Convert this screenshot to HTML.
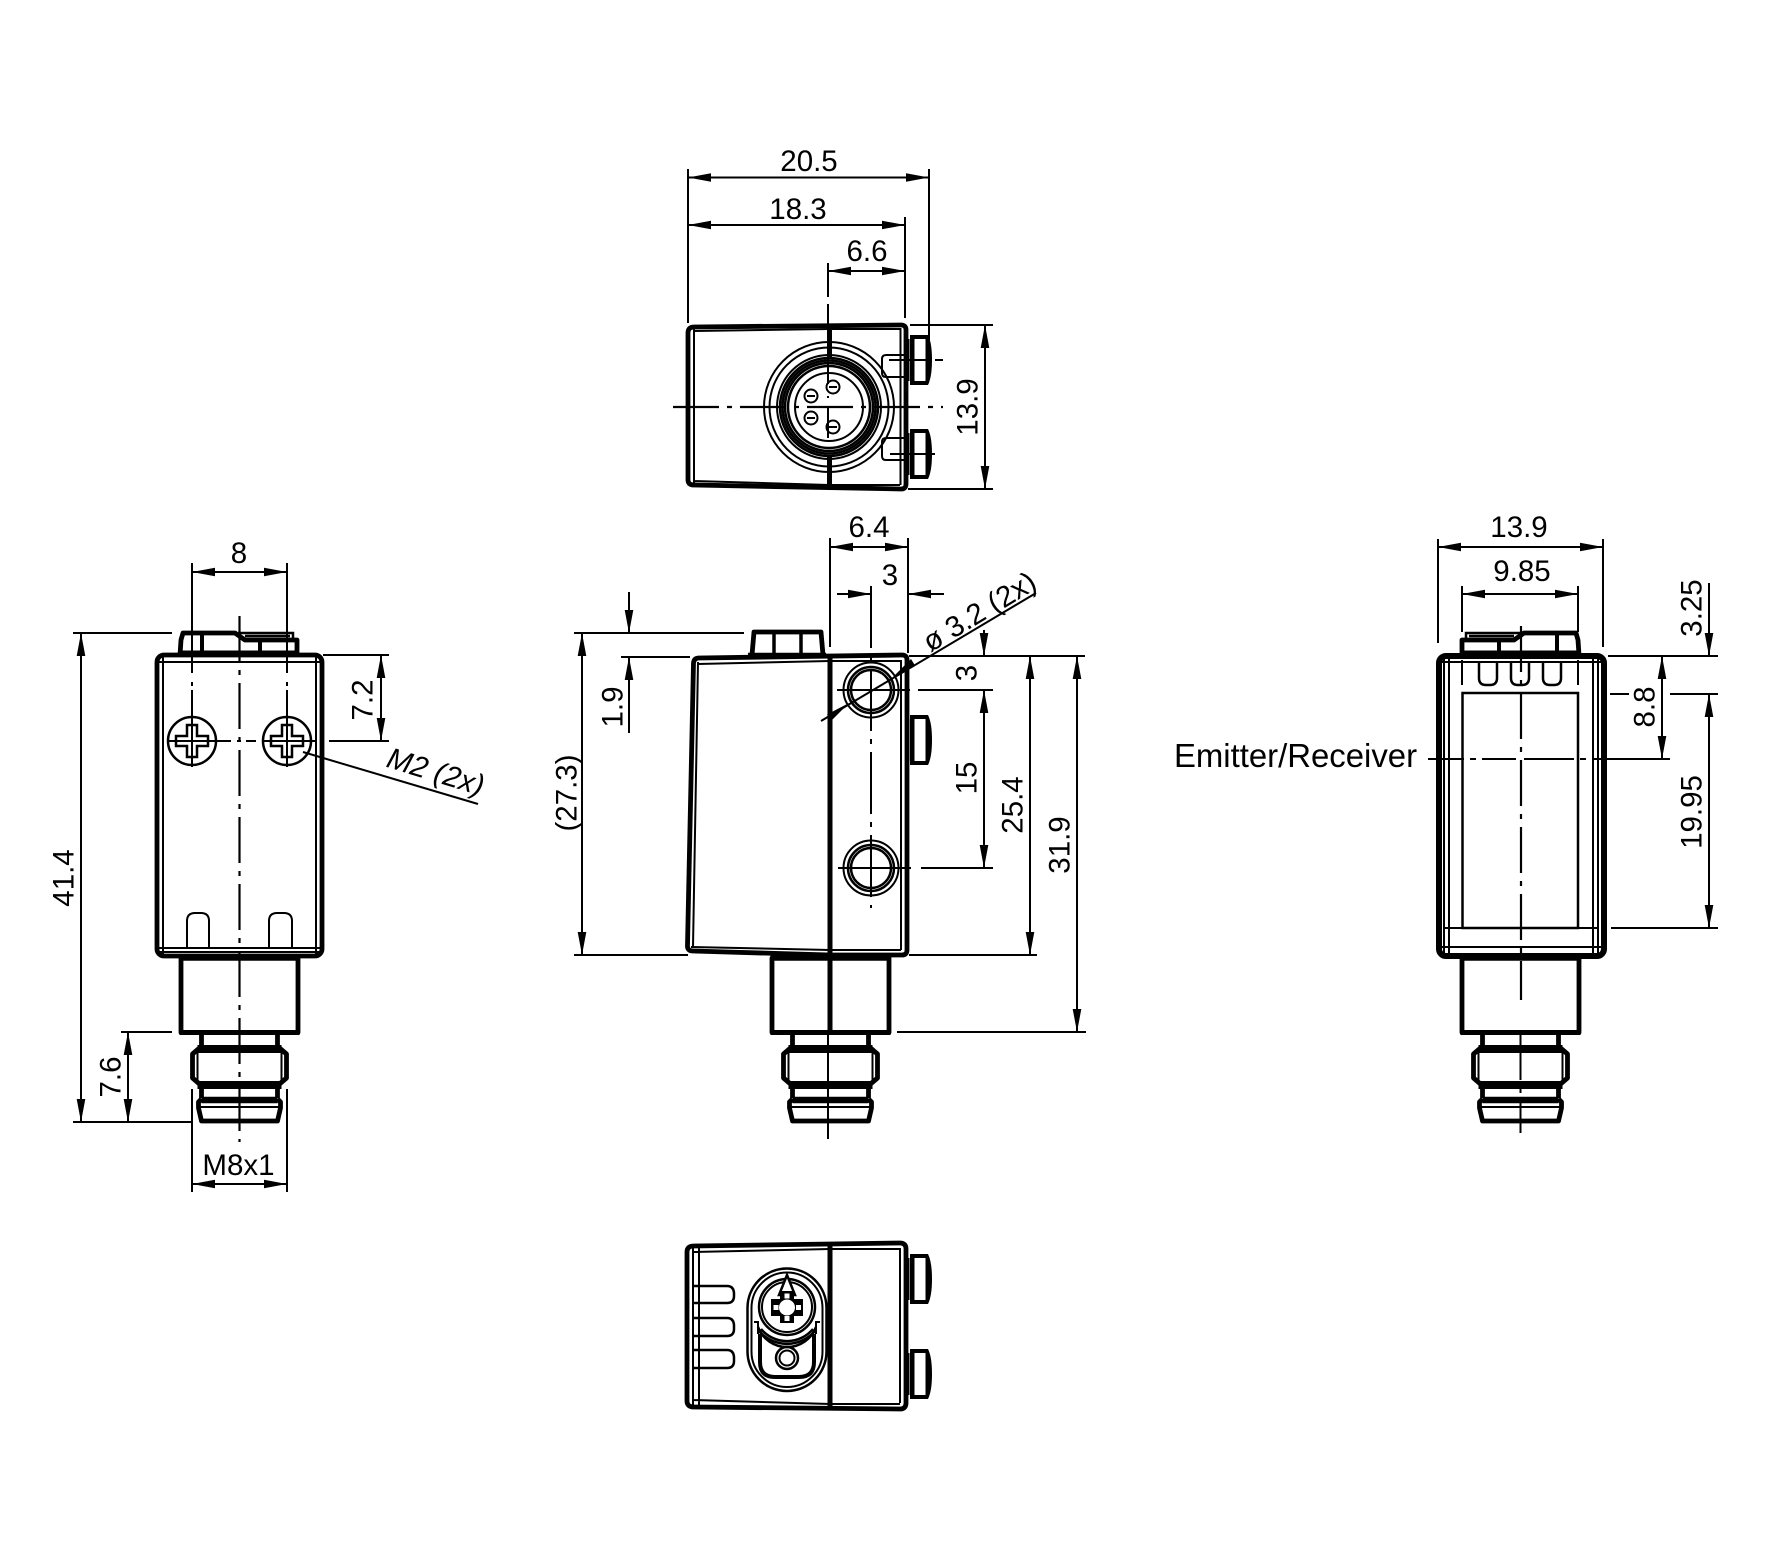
<!DOCTYPE html>
<html><head><meta charset="utf-8"><style>
html,body{margin:0;padding:0;background:#fff}
svg{display:block}
text{font-family:"Liberation Sans",sans-serif;font-size:29.5px;fill:#000;text-anchor:middle}
.t{fill:none;stroke:#000;stroke-width:4.8;stroke-linejoin:round}
.m{fill:none;stroke:#000;stroke-width:2.5}
.s{fill:none;stroke:#000;stroke-width:2}
.d{fill:none;stroke:#000;stroke-width:2;marker-start:url(#a);marker-end:url(#a)}
.c{fill:none;stroke:#000;stroke-width:2.2;stroke-dasharray:46 8 5 8}
</style></head><body>
<svg width="1772" height="1559" viewBox="0 0 1772 1559" xmlns="http://www.w3.org/2000/svg">
<defs>
<marker id="a" markerUnits="userSpaceOnUse" markerWidth="23" markerHeight="9" viewBox="0 0 23 9" refX="23" refY="4.5" orient="auto-start-reverse"><path d="M0,.2L23,4.5L0,8.8z" fill="#000"/></marker>
<g id="conn">
<rect class="t" x="-58.5" y="958" width="117" height="74.5"/>
<path d="M-60,958H60" stroke="#000" stroke-width="5.5"/>
<path d="M-60,1032.5H60" stroke="#000" stroke-width="5"/>
<path class="t" d="M-38,1034V1046M38,1034V1046M-38,1085V1098M38,1085V1098"/>
<path class="t" d="M-47,1054L-40,1048H40L47,1054V1078L40,1084H-40L-47,1078Z"/>
<path d="M-42,1049H42M-42,1085H42" stroke="#000" stroke-width="8"/>
<path class="s" d="M42,1052V1080M-42,1052V1080"/>
<path d="M-38,1100H38" stroke="#000" stroke-width="6.5"/>
<path class="t" d="M-38,1099L-41,1102V1108L-38,1121H38L41,1108V1102L38,1099"/>
<path class="s" d="M-40,1107H40"/>
</g>
<g id="knob">
<path d="M0,0H18Q22,8 22,25Q22,42 18,50H0Z" fill="#000"/>
<rect x="4.5" y="4" width="11" height="42" fill="#fff"/>
<path d="M-2,4V46" stroke="#000" stroke-width="3"/>
</g>
<g id="screw">
<circle class="m" r="24"/>
<path class="m" d="M-5,-16H5V-5H16V5H5V16H-5V5H-16V-5H-5Z"/>
</g>
<g id="hole">
<circle class="s" r="27.5"/>
<circle class="m" r="23"/>
<circle class="m" r="20"/>
</g>
<g id="pin"><circle class="s" r="6.5"/><path class="s" d="M-4,0H4"/></g>
<g id="topc">
<path class="t" d="M180,655L181,640L183,633H235L245,640H297V655"/>
<path class="m" d="M238,633H293V640M245,636H290"/>
<path d="M202,634V654M260,640V654" stroke="#000" stroke-width="4"/>
<path d="M178,653H298" stroke="#000" stroke-width="5"/>
</g>
</defs>

<!-- TOP VIEW -->
<path class="t" d="M694,327L901,325Q906,325 906,330V484Q906,489 901,489L694,485Q688,485 688,480V333Q688,327 694,327Z"/>
<path class="s" d="M694,331L829,329H900.5V485M694,329V484M694,481L829,485H900"/>
<path d="M829.5,326V358M829.5,456V490" stroke="#000" stroke-width="5"/>
<path class="s" d="M828,358V384M828,396V398M828,407V438"/>
<circle class="s" cx="829" cy="407" r="65"/>
<circle class="s" cx="829" cy="407" r="59.5"/>
<circle class="s" cx="829" cy="407" r="52"/>
<circle class="m" cx="829" cy="407" r="49"/>
<circle class="m" cx="829" cy="407" r="46.5"/>
<circle class="m" cx="829" cy="407" r="44"/>
<circle class="m" cx="829" cy="407" r="41"/>
<circle class="s" cx="829" cy="407" r="34"/>
<use href="#pin" x="833" y="387"/><use href="#pin" x="811" y="396"/><use href="#pin" x="811" y="418"/><use href="#pin" x="833" y="427"/>
<path class="c" d="M673,407H943"/>
<path class="s" d="M905,355H886Q882,355 882,359V373Q882,377 886,377H905M905,438H886Q882,438 882,442V456Q882,460 886,460H905"/>
<use href="#knob" x="910" y="335"/><use href="#knob" x="910" y="429"/>
<path class="s" d="M889,360H930M935,360H943M890,454H935"/>
<path class="s" d="M688,169V323M929,169V340M905,217V318M828,263V297M828,304V326"/>
<path class="d" d="M688,177.5H929"/>
<path class="d" d="M688,225H905"/>
<path class="d" d="M828,271H905"/>
<path class="s" d="M910,325H993M908,489H993"/>
<path class="d" d="M985,325V489"/>
<text x="809" y="171">20.5</text>
<text x="798" y="219">18.3</text>
<text x="867" y="261">6.6</text>
<text transform="translate(967,407) rotate(-90)" dy=".36em">13.9</text>

<!-- LEFT VIEW -->
<rect class="t" x="157" y="655" width="165" height="301" rx="7"/>
<path class="s" d="M163,656V954M316,656V954M157,662H322M158,948H321M158,952H321"/>
<path class="s" d="M187,948V921Q187,913 195,913H201Q209,913 209,921V948M269,948V921Q269,913 277,913H284Q292,913 292,921V948"/>
<use href="#topc"/>
<use href="#screw" x="192" y="741"/><use href="#screw" x="287" y="741"/>
<path class="s" d="M192,563V673M192,682V686M192,690V767M287,563V673M287,682V686M287,690V767"/>
<path class="s" d="M168,741H231M237,741H241M246,741H256M262,741H317M329,741H389"/>
<path class="c" d="M239.5,616V1142"/>
<path class="d" d="M192,572H287"/>
<text x="239" y="563">8</text>
<path class="s" d="M323,655H389"/>
<path class="d" d="M381,655V741"/>
<text transform="translate(362,700) rotate(-90)" dy=".36em">7.2</text>
<path class="s" d="M303,752L478,804"/>
<text transform="translate(436,771) rotate(17)" dy=".36em" font-style="italic">M2 (2x)</text>
<path class="s" d="M73,633H172M73,1122H192M121,1032H172"/>
<path class="d" d="M81,633V1122"/>
<text transform="translate(63,878) rotate(-90)" dy=".36em">41.4</text>
<path class="d" d="M128,1032V1122"/>
<text transform="translate(110,1077) rotate(-90)" dy=".36em">7.6</text>
<use href="#conn" x="239.5"/>
<path class="s" d="M192,1089V1192M287,1089V1192"/>
<path class="d" d="M192,1184H287"/>
<text x="238.5" y="1175">M8x1</text>

<!-- CENTER VIEW -->
<path class="t" d="M699,658L902,655Q907,655 907,660V950Q907,955 902,955H830L693,951Q687,951 687.5,945L693.5,663Q694,658 699,658Z"/>
<path class="s" d="M698,664L830,661H901V950M698,662L693,947M691,947L830,950H901"/>
<path d="M830,656V1032" stroke="#000" stroke-width="5"/>
<path class="t" d="M752,655L754,632H821L823,655"/>
<path d="M774,633V654M801,633V654" stroke="#000" stroke-width="3.5"/>
<path d="M748,655H826" stroke="#000" stroke-width="4.5"/>
<use href="#hole" x="871" y="690"/><use href="#hole" x="871" y="868"/>
<use href="#knob" x="910" y="715"/>
<path class="s" d="M871,586V908" stroke-dasharray="62 8 5 8"/>
<path class="s" d="M837,690H910M918,690H993M838,868H911M921,868H993"/>
<path class="s" d="M830,538V647M908,538V653"/>
<path class="d" d="M830,547H908"/>
<text x="869" y="537">6.4</text>
<path class="s" d="M837,594H871M908,594H944"/>
<path d="M848,589.7L871,594L848,598.3zM931,589.7L908,594L931,598.3z" fill="#000"/>
<text x="890" y="585">3</text>
<path class="s" d="M821,721L1036,593"/>
<path d="M849,703L827,714.5L831,721zM893,677L915,665.5L911,659z" fill="#000"/>
<text transform="translate(979,611) rotate(-31)" dy=".36em">ø 3.2 (2x)</text>
<path class="s" d="M574,633H744M621,657H690"/>
<path class="s" d="M629,592V633M629,657V733"/>
<path d="M624.7,610L629,633L633.3,610zM624.7,680L629,657L633.3,680z" fill="#000"/>
<text transform="translate(612,707) rotate(-90)" dy=".36em">1.9</text>
<path class="s" d="M574,955H688"/>
<path class="d" d="M582,633V955"/>
<text transform="translate(566,793) rotate(-90)" dy=".36em">(27.3)</text>
<path class="s" d="M984,630V656"/>
<path d="M979.7,633L984,656L988.3,633z" fill="#000"/>
<path class="d" d="M984,690V868"/>
<text transform="translate(966,673) rotate(-90)" dy=".36em">3</text>
<text transform="translate(966,778) rotate(-90)" dy=".36em">15</text>
<path class="s" d="M909,656H1085M909,955H1037"/>
<path class="d" d="M1030,656V955"/>
<text transform="translate(1012,805) rotate(-90)" dy=".36em">25.4</text>
<path class="s" d="M897,1032H1086"/>
<path class="d" d="M1077,656V1032"/>
<text transform="translate(1059,845) rotate(-90)" dy=".36em">31.9</text>
<use href="#conn" x="830.5"/>
<path class="s" d="M828,1034V1139"/>

<!-- BOTTOM VIEW -->
<path class="t" d="M694,1246L900,1243Q906,1243 906,1249V1403Q906,1409 900,1409L694,1407Q687,1407 687,1401V1252Q687,1246 694,1246Z"/>
<path class="s" d="M693,1252L830,1249H900V1403M693,1247V1406M699,1246V1408M693,1400L830,1404H900"/>
<path d="M830,1244V1409" stroke="#000" stroke-width="5"/>
<path class="m" d="M692,1286H727Q734,1286 734,1294V1296Q734,1303 727,1303H692M692,1318H727Q734,1318 734,1326V1329Q734,1336 727,1336H692M692,1350H727Q734,1350 734,1358V1361Q734,1368 727,1368H692"/>
<use href="#knob" x="910" y="1254"/><use href="#knob" x="910" y="1349"/>
<path class="m" d="M747.5,1308A39.5,39.5 0 0 1 826.5,1308V1351A39.5,39.5 0 0 1 787,1391A39.5,39.5 0 0 1 747.5,1351Z"/>
<path class="s" d="M751.5,1308A35.5,35.5 0 0 1 822.5,1308V1351A35.5,35.5 0 0 1 787,1387A35.5,35.5 0 0 1 751.5,1351Z"/>
<circle class="m" cx="787" cy="1307" r="28"/>
<circle class="s" cx="787" cy="1307" r="25"/>
<path d="M787,1275L795,1295H779Z" fill="#fff" stroke="#000" stroke-width="2.5"/>
<path d="M780,1291H794V1299H803V1316H794V1323H780V1316H771V1299H780Z" fill="#000"/>
<rect x="784.5" y="1293.5" width="5" height="5" fill="#fff"/>
<rect x="773.5" y="1305" width="5" height="5" fill="#fff"/>
<rect x="796" y="1305" width="5" height="5" fill="#fff"/>
<rect x="784.5" y="1316" width="5" height="5" fill="#fff"/>
<circle cx="787" cy="1307.5" r="8" fill="#fff"/>
<path d="M760,1334V1362Q760,1377 775,1377H799Q814,1377 814,1362V1334" fill="none" stroke="#000" stroke-width="4"/>
<path class="m" d="M761,1329A34,34 0 0 0 813,1329"/>
<path class="m" d="M759,1331A37,37 0 0 0 815,1331"/>
<path class="m" d="M758,1327A31,31 0 0 0 816,1327" />
<path class="s" d="M754,1322H758V1334M820,1322H816V1334"/>
<circle class="m" cx="787" cy="1358" r="11"/>
<circle class="s" cx="787" cy="1358" r="7.5"/>

<!-- RIGHT VIEW -->
<rect class="t" x="1439" y="656" width="165" height="300" rx="7" style="stroke-width:6"/>
<path class="s" d="M1444,657V954M1449,657V954M1593,657V954M1598,657V954M1440,662H1603M1444,928H1598M1440,947H1603"/>
<use href="#topc" transform="translate(1759,0) scale(-1,1)"/>
<rect class="m" x="1462.5" y="693" width="115.5" height="235"/>
<path class="m" d="M1479,662V678Q1479,685 1486,685H1490Q1497,685 1497,678V662M1511,662V678Q1511,685 1518,685H1522Q1529,685 1529,678V662M1543,662V678Q1543,685 1550,685H1554Q1561,685 1561,678V662"/>
<path class="c" d="M1521,626V1000"/>
<path class="s" d="M1438,539V643M1603,539V647M1462,586V632M1462,660V685M1578,586V632M1578,660V685"/>
<path class="d" d="M1438,547H1603"/>
<path class="d" d="M1462,594H1578"/>
<text x="1519" y="537">13.9</text>
<text x="1522" y="581">9.85</text>
<text x="1295.5" y="767" style="font-size:32.9px">Emitter/Receiver</text>
<path class="s" d="M1428,759H1464M1470,759H1476M1482,759H1516M1524,759H1574M1580,759H1586M1592,759H1670" />
<path class="s" d="M1608,656H1718M1610,694H1629M1670,694H1718M1611,928H1718"/>
<path class="s" d="M1709,583V656"/>
<path d="M1704.7,633L1709,656L1713.3,633z" fill="#000"/>
<path class="d" d="M1709,694V928"/>
<path class="d" d="M1662,656V759"/>
<text transform="translate(1691,608) rotate(-90)" dy=".36em">3.25</text>
<text transform="translate(1644,707) rotate(-90)" dy=".36em">8.8</text>
<text transform="translate(1691,812) rotate(-90)" dy=".36em">19.95</text>
<use href="#conn" x="1520.5"/>
<path class="s" d="M1520.5,1034V1133" stroke-dasharray="46 8 5 8"/>
</svg>
</body></html>
